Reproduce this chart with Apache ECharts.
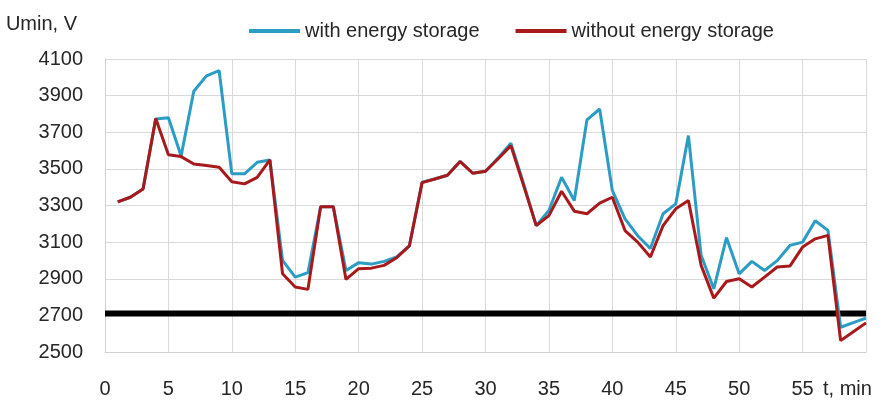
<!DOCTYPE html>
<html>
<head>
<meta charset="utf-8">
<script src="https://cdn.jsdelivr.net/npm/echarts@6/dist/echarts.min.js"></script>
<style>
  html, body { margin: 0; padding: 0; background: #fff; }
  #chart { width: 890px; height: 402px; }
</style>
</head>
<body>
<div id="chart"></div>
<script>
// time, min
const minutes = [1, 2, 3, 4, 5, 6, 7, 8, 9, 10, 11, 12, 13, 14, 15, 16, 17, 18, 19, 20,
    21, 22, 23, 24, 25, 26, 27, 28, 29, 30, 31, 32, 33, 34, 35, 36, 37, 38, 39, 40,
    41, 42, 43, 44, 45, 46, 47, 48, 49, 50, 51, 52, 53, 54, 55, 56, 57, 58, 59, 60];

const withStorage = [3320, 3345, 3390, 3773, 3779, 3570, 3924, 4008, 4036, 3473,
    3473, 3536, 3549, 3000, 2909, 2933, 3293, 3293, 2945, 2988,
    2980, 2995, 3019, 3080, 3427, 3445, 3465, 3541, 3476, 3487,
    3560, 3640, 3420, 3190, 3273, 3454, 3327, 3768, 3827, 3382,
    3227, 3135, 3065, 3255, 3309, 3682, 3028, 2845, 3124, 2927,
    2995, 2945, 2999, 3082, 3100, 3217, 3164, 2635, 2660, 2685];

const withoutStorage = [3320, 3345, 3390, 3775, 3577, 3567, 3527, 3518, 3509, 3430,
    3418, 3454, 3549, 2927, 2855, 2842, 3293, 3293, 2896, 2955,
    2958, 2973, 3015, 3080, 3425, 3445, 3465, 3540, 3476, 3487,
    3555, 3627, 3410, 3190, 3245, 3378, 3269, 3255, 3313, 3345,
    3163, 3100, 3019, 3190, 3282, 3327, 2973, 2794, 2885, 2900,
    2855, 2909, 2964, 2969, 3073, 3118, 3137, 2562, 2611, 2659];

// minimum allowed voltage line
const limitT = [0, 60];
const limitU = [2710, 2710];

const seriesNames = ['with energy storage', 'without energy storage'];
const xTicks = [0, 5, 10, 15, 20, 25, 30, 35, 40, 45, 50, 55];

const font = 'Liberation Sans, Arial, sans-serif';
const textColor = '#262626';

const pairs = (xs, ys) => xs.map((x, i) => [x, ys[i]]);

const myChart = echarts.init(document.getElementById('chart'));
myChart.setOption({
    animation: false,
    grid: {
        left: 105,
        right: 24,
        top: 59,
        bottom: 50
    },
    legend: {
        data: seriesNames,
        left: 244,
        top: 16,
        icon: 'rect',
        itemWidth: 51,
        itemHeight: 4,
        itemGap: 36,
        textStyle: {
            fontFamily: font,
            fontSize: 20,
            color: textColor
        }
    },
    xAxis: {
        type: 'value',
        min: 0,
        max: 60,
        interval: 5,
        name: 't, min',
        nameLocation: 'end',
        nameGap: -43,
        nameTextStyle: {
            fontFamily: font,
            fontSize: 20,
            color: textColor,
            align: 'left',
            verticalAlign: 'top',
            padding: [27, 0, 0, 0]
        },
        axisLine: { lineStyle: { color: '#d0d0d0', width: 1 } },
        axisTick: { show: false },
        axisLabel: {
            margin: 27,
            fontFamily: font,
            fontSize: 20,
            color: textColor,
            formatter: v => xTicks.indexOf(v) >= 0 ? String(v) : ''
        },
        splitLine: { show: true, lineStyle: { color: '#d9d9d9', width: 1 } }
    },
    yAxis: {
        type: 'value',
        min: 2500,
        max: 4100,
        interval: 200,
        name: 'Umin, V',
        nameLocation: 'end',
        nameGap: 25,
        nameTextStyle: {
            fontFamily: font,
            fontSize: 20,
            color: textColor,
            align: 'right',
            padding: [0, 28, 0, 0]
        },
        axisLine: { show: true, lineStyle: { color: '#d0d0d0', width: 1 } },
        axisTick: { show: false },
        axisLabel: {
            margin: 22,
            fontFamily: font,
            fontSize: 20,
            color: textColor,
            formatter: v => String(v)
        },
        splitLine: { show: true, lineStyle: { color: '#d9d9d9', width: 1 } }
    },
    series: [
        {
            name: 'limit',
            type: 'line',
            data: pairs(limitT, limitU),
            symbol: 'none',
            lineStyle: { color: '#000', width: 6 },
            z: 1
        },
        {
            name: seriesNames[0],
            type: 'line',
            data: pairs(minutes, withStorage),
            symbol: 'none',
            itemStyle: { color: '#2b9cc4' },
            lineStyle: { color: '#2b9cc4', width: 3 },
            z: 2
        },
        {
            name: seriesNames[1],
            type: 'line',
            data: pairs(minutes, withoutStorage),
            symbol: 'none',
            itemStyle: { color: '#a8191c' },
            lineStyle: { color: '#a8191c', width: 3 },
            z: 3
        }
    ]
});
</script>
</body>
</html>
